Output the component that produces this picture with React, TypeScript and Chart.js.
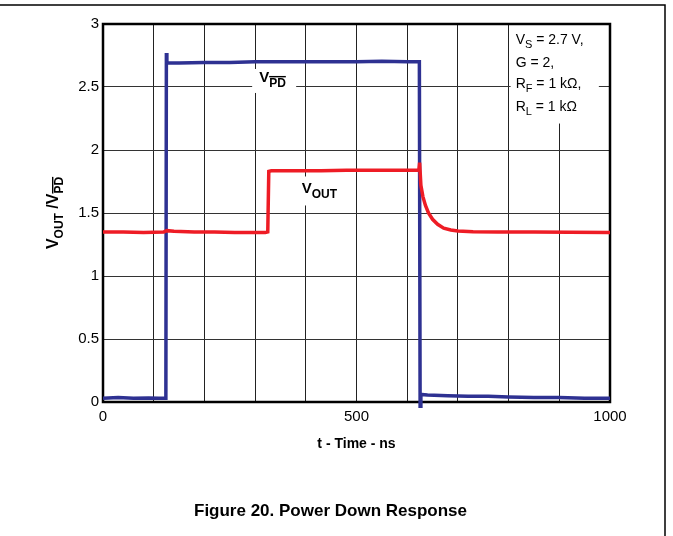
import React, { useEffect, useRef } from "react";
import { Chart, registerables } from "chart.js";

Chart.register(...registerables);

// ---- data ----
const vpdTime = [0, 30, 60, 90, 110, 124, 125, 126, 150, 200, 250, 300, 350, 400, 450, 500, 550, 600, 624, 625.5, 627, 640, 680, 720, 760, 800, 850, 900, 950, 1000];
const vpdValues = [0.03, 0.035, 0.03, 0.032, 0.03, 0.03, 2.77, 2.69, 2.69, 2.695, 2.695, 2.7, 2.7, 2.7, 2.7, 2.7, 2.705, 2.7, 2.7, -0.04, 0.06, 0.055, 0.05, 0.045, 0.045, 0.04, 0.035, 0.035, 0.03, 0.03];

const voutTime = [0, 40, 80, 120, 126, 140, 180, 220, 260, 300, 320, 325, 327, 332, 380, 430, 480, 530, 580, 620, 623, 624.5, 627, 631, 636, 642, 650, 660, 672, 686, 700, 730, 780, 850, 920, 1000];
const voutValues = [1.35, 1.35, 1.345, 1.35, 1.36, 1.355, 1.35, 1.35, 1.345, 1.345, 1.345, 1.35, 1.83, 1.835, 1.835, 1.835, 1.84, 1.84, 1.84, 1.84, 1.84, 1.9, 1.72, 1.63, 1.56, 1.5, 1.45, 1.41, 1.38, 1.365, 1.357, 1.352, 1.35, 1.35, 1.348, 1.345];

const xLabeledTicks = [0, 500, 1000];
const yTickLabels = ["0", "0.5", "1", "1.5", "2", "2.5", "3"];

const annotationLines = [
  [{ t: "V", sub: false }, { t: "S", sub: true }, { t: " = 2.7 V,", sub: false }],
  [{ t: "G = 2,", sub: false }],
  [{ t: "R", sub: false }, { t: "F", sub: true }, { t: " = 1 k\u03A9,", sub: false }],
  [{ t: "R", sub: false }, { t: "L", sub: true }, { t: " = 1 k\u03A9", sub: false }],
];

const FONT = "'Liberation Sans', Arial, sans-serif";

type Run = { text: string; font: string; dy: number; overline?: boolean };

function drawRuns(ctx: CanvasRenderingContext2D, x: number, y: number, runs: Run[]) {
  for (const r of runs) {
    ctx.font = r.font;
    ctx.fillText(r.text, x, y + r.dy);
    const w = ctx.measureText(r.text).width;
    if (r.overline) {
      ctx.fillRect(x, y + r.dy - 11, w, 1.4);
    }
    x += w;
  }
  return x;
}
function runsWidth(ctx: CanvasRenderingContext2D, runs: Run[]) {
  let w = 0;
  for (const r of runs) {
    ctx.font = r.font;
    w += ctx.measureText(r.text).width;
  }
  return w;
}

const decorPlugin = {
  id: "decor",
  beforeDatasetsDraw(chart: any) {
    const ctx: CanvasRenderingContext2D = chart.ctx;
    const { left, right, top, bottom } = chart.chartArea;
    const xs = chart.scales.x;
    const ys = chart.scales.y;
    ctx.save();
    ctx.textBaseline = "alphabetic";
    ctx.textAlign = "left";

    // V_PD label
    const vpdX = xs.getPixelForValue(308);
    const vpdY = ys.getPixelForValue(2.54);
    ctx.fillStyle = "#fff";
    ctx.fillRect(vpdX - 7, vpdY - 13, 44, 24);
    ctx.fillStyle = "#000";
    drawRuns(ctx, vpdX, vpdY, [
      { text: "V", font: `bold 15px ${FONT}`, dy: 0 },
      { text: "PD", font: `bold 12px ${FONT}`, dy: 5, overline: true },
    ]);

    // V_OUT label
    const voX = xs.getPixelForValue(392);
    const voY = ys.getPixelForValue(1.655);
    ctx.fillStyle = "#fff";
    ctx.fillRect(voX - 4, voY - 17, 46, 29);
    ctx.fillStyle = "#000";
    drawRuns(ctx, voX, voY, [
      { text: "V", font: `bold 15px ${FONT}`, dy: 0 },
      { text: "OUT", font: `bold 12px ${FONT}`, dy: 5 },
    ]);

    // annotation box
    const ax = xs.getPixelForValue(804);
    const aRight = xs.getPixelForValue(978);
    const aBottom = ys.getPixelForValue(2.21);
    ctx.fillStyle = "#fff";
    ctx.fillRect(ax, top, aRight - ax, aBottom - top);
    ctx.fillStyle = "#000";
    const baselines = [2.84, 2.66, 2.49, 2.31];
    annotationLines.forEach((line, i) => {
      const runs: Run[] = line.map((p) => ({
        text: p.t,
        font: p.sub ? `11px ${FONT}` : `14px ${FONT}`,
        dy: p.sub ? 4 : 0,
      }));
      drawRuns(ctx, ax + 5, ys.getPixelForValue(baselines[i]), runs);
    });

    // plot border
    ctx.strokeStyle = "#000";
    ctx.lineWidth = 2.5;
    ctx.strokeRect(left, top, right - left, bottom - top);
    ctx.restore();
  },
  afterDraw(chart: any) {
    const ctx: CanvasRenderingContext2D = chart.ctx;
    const { left, right, top, bottom } = chart.chartArea;
    const W = chart.width;
    const H = chart.height;
    ctx.save();
    // frame
    ctx.strokeStyle = "#000";
    ctx.lineWidth = 1.5;
    ctx.beginPath();
    ctx.moveTo(0, 5);
    ctx.lineTo(W - 8, 5);
    ctx.lineTo(W - 8, H);
    ctx.stroke();

    ctx.fillStyle = "#000";
    ctx.textBaseline = "alphabetic";
    // x title
    ctx.font = `bold 14px ${FONT}`;
    ctx.textAlign = "center";
    ctx.fillText("t - Time - ns", (left + right) / 2, bottom + 46);

    // caption
    ctx.font = `bold 17px ${FONT}`;
    ctx.fillText("Figure 20. Power Down Response", (W - 8) / 2 - 2, H - 20);

    // y title
    ctx.textAlign = "left";
    const runs: Run[] = [
      { text: "V", font: `bold 16px ${FONT}`, dy: 0 },
      { text: "OUT", font: `bold 12px ${FONT}`, dy: 5 },
      { text: " /V", font: `bold 16px ${FONT}`, dy: 0 },
      { text: "PD", font: `bold 12px ${FONT}`, dy: 5, overline: true },
    ];
    const tw = runsWidth(ctx, runs);
    ctx.translate(left - 45, (top + bottom) / 2);
    ctx.rotate(-Math.PI / 2);
    drawRuns(ctx, -tw / 2, 0, runs);
    ctx.restore();
  },
};

export default function App() {
  const ref = useRef<HTMLCanvasElement | null>(null);
  useEffect(() => {
    document.body.style.margin = "0";
    const canvas = ref.current!;
    const chart = new Chart(canvas, {
      type: "line",
      data: {
        datasets: [
          {
            label: "VOUT",
            data: voutTime.map((t, i) => ({ x: t, y: voutValues[i] })),
            borderColor: "#ee1c25",
            borderWidth: 3.5,
            pointRadius: 0,
            tension: 0,
            clip: 6,
          },
          {
            label: "VPD",
            data: vpdTime.map((t, i) => ({ x: t, y: vpdValues[i] })),
            borderColor: "#2e3192",
            borderWidth: 3.5,
            pointRadius: 0,
            tension: 0,
            clip: 6,
          },
        ],
      },
      options: {
        animation: false,
        responsive: false,
        maintainAspectRatio: false,
        layout: { padding: { top: 24, right: 63, left: 0, bottom: 0 } },
        plugins: { legend: { display: false }, tooltip: { enabled: false }, title: { display: false } },
        scales: {
          x: {
            type: "linear",
            min: 0,
            max: 1000,
            afterFit: (s: any) => {
              s.height = 134;
            },
            border: { display: false },
            grid: { color: "#222", lineWidth: 1, drawTicks: false },
            ticks: {
              stepSize: 100,
              autoSkip: false,
              maxRotation: 0,
              padding: 6,
              color: "#000",
              font: { family: FONT, size: 15 },
              callback: (v: any) => (xLabeledTicks.includes(Number(v)) ? String(v) : ""),
            },
          },
          y: {
            type: "linear",
            min: 0,
            max: 3,
            afterFit: (s: any) => {
              s.width = 103;
            },
            border: { display: false },
            grid: { color: "#333", lineWidth: 1, drawTicks: false },
            ticks: {
              stepSize: 0.5,
              padding: 4,
              color: "#000",
              font: { family: FONT, size: 15 },
              callback: (v: any) => yTickLabels[Math.round(Number(v) * 2)] ?? "",
            },
          },
        },
      },
      plugins: [decorPlugin],
    });
    return () => chart.destroy();
  }, []);
  return (
    <div style={{ position: "absolute", left: 0, top: 0, width: 673, height: 536 }}>
      <canvas ref={ref} width={673} height={536} style={{ width: 673, height: 536, display: "block" }} />
    </div>
  );
}
